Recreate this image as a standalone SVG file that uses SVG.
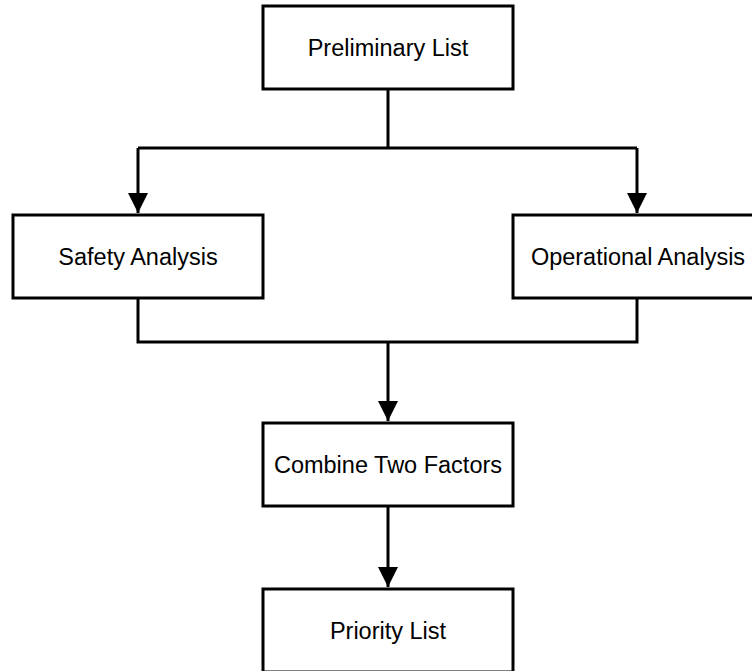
<svg xmlns="http://www.w3.org/2000/svg" width="752" height="671" viewBox="0 0 752 671">
  <style>
    .box { fill: #ffffff; stroke: #000000; stroke-width: 3; }
    .label { font-family: "Liberation Sans", Arial, sans-serif; font-size: 23.5px; fill: #000000; text-anchor: middle; }
    .wire { fill: none; stroke: #000000; stroke-width: 3; stroke-linejoin: miter; }
  </style>
  <defs>
    <marker id="arrow" markerUnits="userSpaceOnUse" markerWidth="22" markerHeight="22" refX="20" refY="10" orient="auto">
      <path d="M0,0 L20,10 L0,20 Z" fill="#000000"/>
    </marker>
  </defs>
  <rect width="752" height="671" fill="#ffffff"/>

  <g id="connectors">
    <!-- split from the preliminary list to the two analyses -->
    <path class="wire" d="M388,89 V148"/>
    <path class="wire" d="M138,148 H637"/>
    <path class="wire" d="M138,148 V213" marker-end="url(#arrow)"/>
    <path class="wire" d="M637,148 V213" marker-end="url(#arrow)"/>
    <!-- merge of the two analyses -->
    <path class="wire" d="M138,298 V342 H637 V298"/>
    <path class="wire" d="M388,342 V421" marker-end="url(#arrow)"/>
    <!-- combined result to the priority list -->
    <path class="wire" d="M388,506 V587" marker-end="url(#arrow)"/>
  </g>

  <g id="preliminary-list">
    <rect class="box" x="263" y="6" width="250" height="83"/>
    <text class="label" x="388" y="56">Preliminary List</text>
  </g>

  <g id="safety-analysis">
    <rect class="box" x="13" y="215" width="250" height="83"/>
    <text class="label" x="138" y="265">Safety Analysis</text>
  </g>

  <g id="operational-analysis">
    <rect class="box" x="513" y="215" width="250" height="83"/>
    <text class="label" x="638" y="265">Operational Analysis</text>
  </g>

  <g id="combine-two-factors">
    <rect class="box" x="263" y="423" width="250" height="83"/>
    <text class="label" x="388" y="473">Combine Two Factors</text>
  </g>

  <g id="priority-list">
    <rect class="box" x="263" y="589" width="250" height="83"/>
    <text class="label" x="388" y="639">Priority List</text>
  </g>
</svg>
